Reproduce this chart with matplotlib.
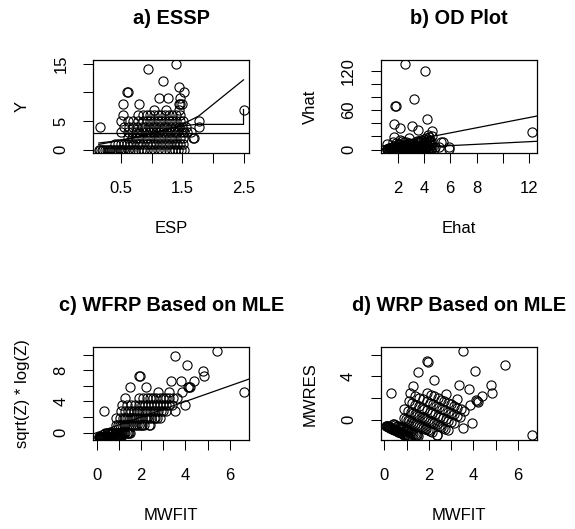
import numpy as np
import matplotlib
matplotlib.use("Agg")
import matplotlib.pyplot as plt

plt.rcParams['font.family'] = ['Liberation Sans', 'DejaVu Sans']

# ---- data: estimated predictor values (ESP) for each observed count Y ----
esp_y0 = [0.14, 0.16, 0.19, 0.21, 0.24, 0.27, 0.30, 0.33, 0.36, 0.39, 0.42, 0.45,
          0.48, 0.51, 0.54, 0.57, 0.61, 0.65, 0.69, 0.73, 0.78, 0.83, 0.88, 0.93,
          0.99, 1.04, 1.10, 1.16, 1.22, 1.28, 1.33, 1.38, 1.43, 1.48, 1.53]
esp_y1 = [0.40, 0.45, 0.50, 0.55, 0.60, 0.65, 0.70, 0.76, 0.81, 0.86, 0.92, 0.97,
          1.03, 1.08, 1.14, 1.19, 1.25, 1.30, 1.36, 1.41, 1.46, 1.52]
esp_y2 = [0.62, 0.68, 0.74, 0.80, 0.86, 0.92, 0.98, 1.04, 1.10, 1.16, 1.22, 1.28,
          1.34, 1.40, 1.46, 1.52, 1.67, 1.69]
esp_y3 = [0.51, 0.62, 0.68, 0.74, 0.80, 0.86, 0.91, 0.97, 1.02, 1.08, 1.13, 1.19,
          1.25, 1.30, 1.36, 1.42, 1.48, 1.53, 1.58, 1.64]
esp_y4 = [0.16, 0.55, 0.63, 0.70, 0.77, 0.84, 0.90, 0.96, 1.02, 1.08, 1.14, 1.20,
          1.26, 1.32, 1.38, 1.44, 1.50, 1.56, 1.77]
esp_y5 = [0.51, 0.62, 0.70, 0.78, 0.86, 0.92, 0.98, 1.04, 1.10, 1.16, 1.22, 1.28,
          1.34, 1.40, 1.46, 1.52, 1.77]
esp_y6 = [0.53, 0.78, 0.86, 0.92, 0.98, 1.04, 1.10, 1.16, 1.22, 1.28, 1.34, 1.40, 1.47]
esp_y7 = [1.04, 1.24, 1.45, 2.50]
esp_y8 = [0.53, 0.79, 1.45, 1.47, 1.49]
esp_y9 = [1.12, 1.27, 1.46]
esp_y10 = [0.60, 0.62, 1.53]
esp_y11 = [1.44]
esp_y12 = [1.18]
esp_y13 = []
esp_y14 = [0.94]
esp_y15 = [1.40]

y_levels = list(range(16))
esp_groups = [esp_y0, esp_y1, esp_y2, esp_y3, esp_y4, esp_y5, esp_y6, esp_y7,
              esp_y8, esp_y9, esp_y10, esp_y11, esp_y12, esp_y13, esp_y14, esp_y15]

# smoother / reference lines
lowess_esp = [0.14, 0.50, 1.00, 1.50, 1.72, 2.50, 2.50]
lowess_y = [0.9, 1.6, 2.9, 4.1, 4.4, 4.4, 7.0]
hline_y = 2.95
od_ols_intercept = 2.0
od_ols_slope = 3.9

# ---- derived quantities (as in the diagnostic plots) ----
Y = np.concatenate([np.full(len(g), y, dtype=float) for y, g in zip(y_levels, esp_groups)])
ESP = np.concatenate([np.asarray(g, dtype=float) for g in esp_groups])
Z = np.where(Y == 0, 0.5, Y)
Ehat = np.exp(ESP)
Vhat = (Y - Ehat) ** 2
MWFIT = np.sqrt(Z) * ESP
ZZ = np.sqrt(Z) * np.log(Z)
MWRES = ZZ - MWFIT

W, H = 575, 529
fig = plt.figure(figsize=(W / 100, H / 100), dpi=100)


def add_ax(x0, y0, x1, y1):
    return fig.add_axes([x0 / W, 1 - y1 / H, (x1 - x0) / W, (y1 - y0) / H])


def rlim(v):
    lo, hi = np.min(v), np.max(v)
    r = hi - lo
    return lo - 0.04 * r, hi + 0.04 * r


boxes = [(93, 60.3, 249.3, 153), (380.7, 60.3, 537.3, 153),
         (93, 347.3, 249.3, 440), (380.7, 347.3, 537.3, 440)]
axs = [add_ax(*b) for b in boxes]

mk = dict(marker='o', linestyle='none', markerfacecolor='none',
          markeredgecolor='black', markersize=6.6, markeredgewidth=0.8)
lw = 0.9


def style(ax, box, title, xlabel, ylabel, xt, xtl, yt, ytl):
    x0, y0, x1, y1 = box
    bh = y1 - y0
    bw = x1 - x0
    ax.set_xticks(xt)
    ax.set_xticklabels(xtl)
    ax.set_yticks(yt)
    ax.set_yticklabels(ytl, rotation=90, va='center')
    ax.tick_params(axis='both', direction='out', length=7.2, width=0.75,
                   labelsize=12, color='black')
    ax.tick_params(axis='x', pad=13)
    ax.tick_params(axis='y', pad=10.5)
    for s in ax.spines.values():
        s.set_linewidth(0.9)
    ax.set_title(title, fontsize=14.4, fontweight='bold', pad=26)
    ax.set_xlabel(xlabel, fontsize=12)
    ax.set_ylabel(ylabel, fontsize=12)
    ax.xaxis.set_label_coords(0.5, -68.0 / bh)
    ax.yaxis.set_label_coords(-63.0 / bw, 0.5)


# a) ESSP
ax = axs[0]
ax.plot(ESP, Y, **mk)
order = np.argsort(ESP)
ax.plot(ESP[order], np.exp(ESP[order]), color='black', lw=lw)
ax.plot(lowess_esp, lowess_y, color='black', lw=lw)
ax.axhline(hline_y, color='black', lw=lw)
ax.set_xlim(rlim(ESP)); ax.set_ylim(rlim(Y))
style(ax, boxes[0], 'a) ESSP', 'ESP', 'Y',
      [0.5, 1.0, 1.5, 2.0, 2.5], ['0.5', '', '1.5', '', '2.5'],
      [0, 5, 10, 15], ['0', '5', '', '15'])

# b) OD plot
ax = axs[1]
ax.plot(Ehat, Vhat, **mk)
ax.axline((0, 0), slope=1, color='black', lw=lw)
ax.axline((0, od_ols_intercept), slope=od_ols_slope, color='black', lw=lw)
ax.set_xlim(rlim(Ehat)); ax.set_ylim(rlim(Vhat))
style(ax, boxes[1], 'b) OD Plot', 'Ehat', 'Vhat',
      [2, 4, 6, 8, 10, 12], ['2', '4', '6', '8', '', '12'],
      [0, 20, 40, 60, 80, 100, 120], ['0', '', '', '60', '', '', '120'])

# c) WFRP
ax = axs[2]
ax.plot(MWFIT, ZZ, **mk)
ax.axline((0, 0), slope=1, color='black', lw=lw)
ax.set_xlim(rlim(MWFIT)); ax.set_ylim(rlim(ZZ))
style(ax, boxes[2], 'c) WFRP Based on MLE', 'MWFIT', 'sqrt(Z) * log(Z)',
      [0, 1, 2, 3, 4, 5, 6], ['0', '', '2', '', '4', '', '6'],
      [0, 2, 4, 6, 8, 10], ['0', '', '4', '', '8', ''])

# d) WRP
ax = axs[3]
ax.plot(MWFIT, MWRES, **mk)
ax.set_xlim(rlim(MWFIT)); ax.set_ylim(rlim(MWRES))
style(ax, boxes[3], 'd) WRP Based on MLE', 'MWFIT', 'MWRES',
      [0, 1, 2, 3, 4, 5, 6], ['0', '', '2', '', '4', '', '6'],
      [0, 2, 4, 6], ['0', '', '4', ''])

fig.savefig('out.png', dpi=100)
